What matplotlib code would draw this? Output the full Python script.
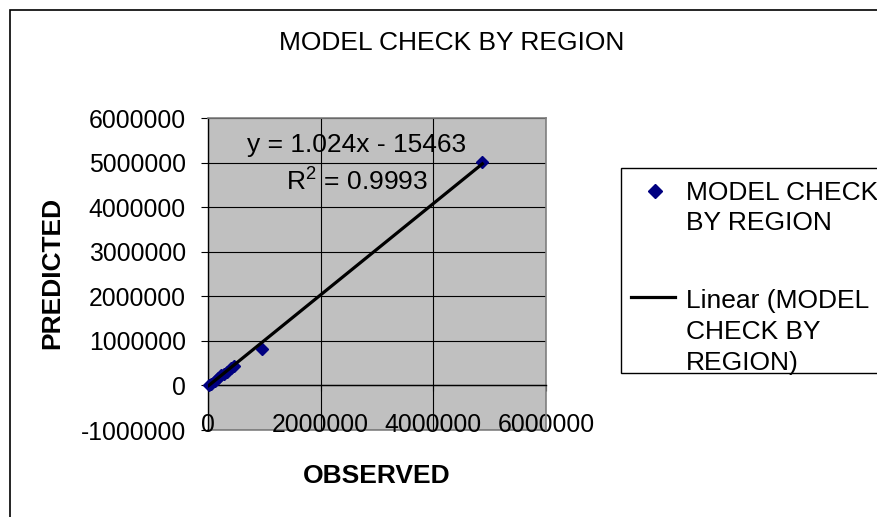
import numpy as np
import matplotlib
matplotlib.use("Agg")
import matplotlib.pyplot as plt
from matplotlib.lines import Line2D
from matplotlib.patches import Rectangle

plt.rcParams['font.family'] = ['Liberation Sans', 'DejaVu Sans']
plt.rcParams['mathtext.fontset'] = 'custom'
plt.rcParams['mathtext.rm'] = 'Liberation Sans'

# ---- data ----
observed = [10000, 60000, 120000, 180000, 230000, 280000, 330000, 400000, 460000, 950000, 4870000]
predicted = [0, 40000, 110000, 170000, 240000, 260000, 300000, 400000, 440000, 810000, 5010000]
slope = 1.024
intercept = -15463
r_squared = 0.9993
x_ticks = [0, 2000000, 4000000, 6000000]
y_ticks = [-1000000, 0, 1000000, 2000000, 3000000, 4000000, 5000000, 6000000]
title = "MODEL CHECK BY REGION"
series_label_lines = ["MODEL CHECK", "BY REGION"]
trend_label_lines = ["Linear (MODEL", "CHECK BY", "REGION)"]

W, H = 877, 517
FS_TICK = 17.8
FS = 19
fig = plt.figure(figsize=(W / 100, H / 100), dpi=100)

def fx(px):
    return px / W

def fy(py):
    return 1 - py / H

ax = fig.add_axes([fx(208), fy(430), fx(546) - fx(208), fy(118) - fy(430)])
ax.set_facecolor('#C0C0C0')
ax.set_xlim(x_ticks[0], x_ticks[-1])
ax.set_ylim(y_ticks[0], y_ticks[-1])
ax.set_xticks(x_ticks)
ax.set_yticks(y_ticks)
ax.set_xticklabels([str(v) for v in x_ticks])
ax.set_yticklabels([str(v) for v in y_ticks])
ax.set_axisbelow(True)
ax.grid(True, color='black', linewidth=0.8)

for s in ['top', 'right']:
    ax.spines[s].set_color('#808080')
    ax.spines[s].set_linewidth(1.2)
ax.spines['left'].set_color('black')
ax.spines['left'].set_linewidth(1.0)
ax.spines['bottom'].set_position(('data', 0))
ax.spines['bottom'].set_color('black')
ax.spines['bottom'].set_linewidth(1.0)
ax.axhline(y_ticks[0], color='#808080', linewidth=1.2, clip_on=False, zorder=0.5)

ax.tick_params(axis='y', direction='out', length=5, width=0.8, pad=11, labelsize=FS_TICK, colors='black')
ax.tick_params(axis='x', direction='out', length=4, width=0.8, pad=16, labelsize=FS_TICK, colors='black')

# points
ax.plot(observed, predicted, linestyle='none', marker='D', markersize=6.5,
        color='#000080', markeredgecolor='#000080', zorder=3, clip_on=False)
# trendline
xs = np.array([min(observed), max(observed)])
ax.plot(xs, slope * xs + intercept, color='black', linewidth=2.3, zorder=4)

# equation text
fig.text(fx(357), fy(152), f"y = {slope}x - {abs(intercept)}", ha='center', va='baseline', fontsize=FS)
fig.text(fx(357), fy(190), r"R$^{\mathrm{2}}$" + f" = {r_squared}", ha='center', va='baseline', fontsize=FS)

# title and axis labels
fig.text(fx(452), fy(50), title, ha='center', va='baseline', fontsize=FS)
fig.text(fx(52), fy(273), "PREDICTED", ha='center', va='center', fontsize=FS,
         fontweight='bold', rotation=90)
fig.text(fx(377), fy(483), "OBSERVED", ha='center', va='baseline', fontsize=FS, fontweight='bold')

# legend (drawn manually to match layout)
fig.add_artist(Rectangle((fx(621), fy(373)), fx(900) - fx(621), fy(168) - fy(373),
                         transform=fig.transFigure, facecolor='white', edgecolor='black',
                         linewidth=1.0, zorder=5))
fig.add_artist(Line2D([fx(655)], [fy(191)], marker='D', markersize=7, color='#000080',
                      linestyle='none', transform=fig.transFigure, zorder=6))
for i, line in enumerate(series_label_lines):
    fig.text(fx(686), fy(200 + 30 * i), line, ha='left', va='baseline', fontsize=FS, zorder=6)
fig.add_artist(Line2D([fx(631), fx(675)], [fy(297), fy(297)], color='black', linewidth=2.3,
                      transform=fig.transFigure, zorder=6))
for i, line in enumerate(trend_label_lines):
    fig.text(fx(686), fy(308 + 31 * i), line, ha='left', va='baseline', fontsize=FS, zorder=6)

# outer chart border
fig.add_artist(Rectangle((fx(10), -0.1), 1.2, fy(10) + 0.1, transform=fig.transFigure,
                         facecolor='none', edgecolor='black', linewidth=1.2, zorder=10))

fig.savefig("out.png", dpi=100)
